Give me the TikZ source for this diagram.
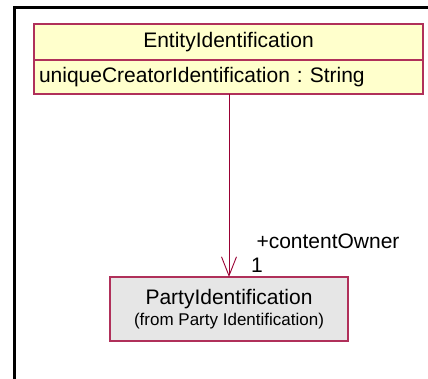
\documentclass[tikz,border=0pt]{standalone}
\usepackage{fontspec}
\setmainfont{Liberation Sans}
\usetikzlibrary{arrows.meta}
\definecolor{umlred}{HTML}{B0305A}
\definecolor{umlline}{HTML}{990033}
\definecolor{umlyellow}{HTML}{FFFFCC}
\definecolor{umlgray}{HTML}{E6E6E6}
\frenchspacing
\begin{document}
\begin{tikzpicture}[x=1pt,y=-1pt,
  classbox/.style={draw=umlred,line width=1.2pt,inner sep=0pt,outer sep=0pt},
  assoc/.style={umlline,line width=0.9pt,-{Straight Barb[length=19pt,width=15pt]}}]
\useasboundingbox (0,0) rectangle (428,379);
\draw [line width=3pt] (14,379) -- (14,8) -- (428,8);

\node [classbox,fill=umlyellow,minimum width=389pt,minimum height=36pt,font=\fontsize{21}{24}\selectfont] (entity) at (228.5,42) {EntityIdentification};
\node [classbox,fill=umlyellow,anchor=north,text width=379pt,minimum height=34pt,inner xsep=5pt,align=left,font=\fontsize{21}{24}\selectfont] (entityattr) at (entity.south) {uniqueCreatorIdentification : String};

\node [classbox,fill=umlgray,minimum width=238pt,minimum height=64pt,align=center] (party) at (229,309)
  {\fontsize{21}{26}\selectfont PartyIdentification\\[3pt]\fontsize{17}{20}\selectfont (from Party Identification)};

\draw [assoc] (entityattr.south -| party.north) -- (party.north);
\draw (328,241) node[font=\fontsize{21}{24}\selectfont] (role) {+contentOwner};
\draw (257,265) node[font=\fontsize{21}{24}\selectfont] (mult) {1};
\end{tikzpicture}
\end{document}
